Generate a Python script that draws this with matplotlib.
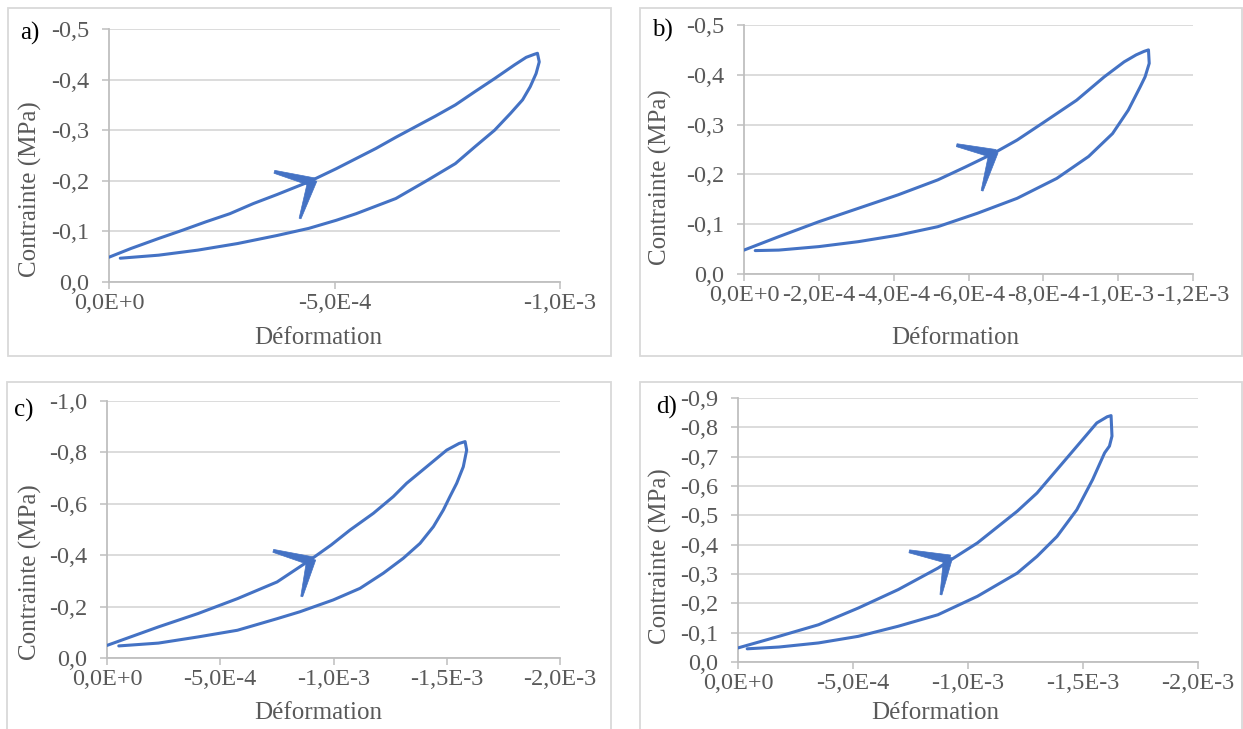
import matplotlib
matplotlib.use("Agg")
import matplotlib.pyplot as plt
from matplotlib.patches import Rectangle, Polygon
from matplotlib.ticker import FuncFormatter, FixedLocator
import matplotlib.transforms as mtrans
import numpy as np

# ---------------- data (strain, stress in MPa) ----------------
# panel a
a_load_x = [0, -4.8e-5, -1.1e-4, -1.62e-4, -2.15e-4, -2.68e-4, -3.2e-4, -3.73e-4, -4.43e-4, -5.04e-4, -5.48e-4,
            -5.92e-4, -6.36e-4, -6.8e-4, -7.24e-4, -7.68e-4, -8.11e-4, -8.55e-4, -8.99e-4, -9.25e-4, -9.43e-4, -9.5e-4]
a_load_y = [-0.049, -0.066, -0.086, -0.102, -0.119, -0.135, -0.155, -0.173, -0.198, -0.224, -0.244,
            -0.264, -0.286, -0.307, -0.328, -0.35, -0.376, -0.402, -0.429, -0.444, -0.45, -0.452]
a_unl_x = [-9.54e-4, -9.47e-4, -9.34e-4, -9.17e-4, -8.9e-4, -8.55e-4, -8.11e-4, -7.68e-4, -7.06e-4, -6.36e-4,
           -5.48e-4, -5.04e-4, -4.43e-4, -3.73e-4, -2.85e-4, -1.97e-4, -1.1e-4, -2.5e-5]
a_unl_y = [-0.435, -0.412, -0.386, -0.36, -0.333, -0.30, -0.267, -0.234, -0.201, -0.165,
           -0.135, -0.122, -0.106, -0.092, -0.076, -0.063, -0.053, -0.047]
# panel b
b_load_x = [0, -9.3e-5, -2.0e-4, -3.06e-4, -4.12e-4, -5.18e-4, -5.92e-4, -6.66e-4, -7.3e-4, -8.04e-4, -8.89e-4,
            -9.63e-4, -1.016e-3, -1.048e-3, -1.069e-3, -1.081e-3]
b_load_y = [-0.048, -0.075, -0.105, -0.132, -0.159, -0.189, -0.215, -0.242, -0.269, -0.306, -0.349,
            -0.396, -0.426, -0.44, -0.447, -0.45]
b_unl_x = [-1.083e-3, -1.072e-3, -1.059e-3, -1.027e-3, -9.85e-4, -9.21e-4, -8.36e-4, -7.3e-4, -6.24e-4, -5.18e-4,
           -4.12e-4, -3.06e-4, -2.0e-4, -9.3e-5, -3.0e-5]
b_unl_y = [-0.423, -0.396, -0.376, -0.329, -0.282, -0.236, -0.192, -0.152, -0.122, -0.095,
           -0.078, -0.065, -0.055, -0.048, -0.047]
# panel c
c_load_x = [0, -2.27e-4, -4.02e-4, -5.76e-4, -7.51e-4, -8.96e-4, -9.9e-4, -1.073e-3, -1.176e-3, -1.264e-3,
            -1.323e-3, -1.411e-3, -1.50e-3, -1.555e-3, -1.581e-3]
c_load_y = [-0.049, -0.121, -0.173, -0.231, -0.296, -0.381, -0.44, -0.498, -0.563, -0.628,
            -0.68, -0.744, -0.809, -0.835, -0.842]
c_unl_x = [-1.588e-3, -1.573e-3, -1.544e-3, -1.514e-3, -1.485e-3, -1.441e-3, -1.382e-3, -1.308e-3, -1.22e-3,
           -1.117e-3, -9.99e-4, -8.52e-4, -7.51e-4, -5.76e-4, -4.02e-4, -2.27e-4, -5.2e-5]
c_unl_y = [-0.809, -0.744, -0.68, -0.628, -0.576, -0.511, -0.446, -0.388, -0.33,
           -0.271, -0.226, -0.18, -0.153, -0.108, -0.082, -0.058, -0.047]
# panel d
d_load_x = [0, -1.78e-4, -3.5e-4, -5.23e-4, -6.97e-4, -8.69e-4, -1.041e-3, -1.214e-3, -1.30e-3, -1.387e-3,
            -1.473e-3, -1.56e-3, -1.605e-3, -1.622e-3]
d_load_y = [-0.048, -0.0875, -0.127, -0.184, -0.247, -0.32, -0.406, -0.514, -0.576, -0.656,
            -0.735, -0.815, -0.836, -0.84]
d_unl_x = [-1.626e-3, -1.615e-3, -1.594e-3, -1.542e-3, -1.473e-3, -1.387e-3, -1.30e-3, -1.214e-3, -1.041e-3,
           -8.69e-4, -6.97e-4, -5.23e-4, -3.5e-4, -1.78e-4, -4.0e-5]
d_unl_y = [-0.77, -0.736, -0.713, -0.622, -0.519, -0.428, -0.36, -0.303, -0.224,
           -0.161, -0.122, -0.0875, -0.065, -0.051, -0.045]

# arrow tip positions (data coords)
arrow_x = [-4.5e-4, -6.66e-4, -9.0e-4, -9.12e-4]
arrow_y = [-0.198, -0.242, -0.378, -0.351]

panel_labels = ["a)", "b)", "c)", "d)"]
x_ticks = [[0, -5e-4, -1e-3],
           [0, -2e-4, -4e-4, -6e-4, -8e-4, -1e-3, -1.2e-3],
           [0, -5e-4, -1e-3, -1.5e-3, -2e-3],
           [0, -5e-4, -1e-3, -1.5e-3, -2e-3]]
y_ticks = [[0, -0.1, -0.2, -0.3, -0.4, -0.5],
           [0, -0.1, -0.2, -0.3, -0.4, -0.5],
           [0, -0.2, -0.4, -0.6, -0.8, -1.0],
           [0, -0.1, -0.2, -0.3, -0.4, -0.5, -0.6, -0.7, -0.8, -0.9]]

# ---------------- layout (pixels) ----------------
W, H = 1243, 729
fig = plt.figure(figsize=(W / 100, H / 100), dpi=100)
plt.rcParams['font.family'] = ['Liberation Serif', 'DejaVu Serif']

axes_px = [(109, 560, 29, 282), (744, 1193, 25, 274), (107, 560, 401, 658), (738, 1198, 398, 662)]
frames_px = [(8, 611, 8, 356), (640, 1242, 8, 356), (7, 611, 382, 740), (640, 1242, 382, 740)]
ylabel_pos = [(30, 189), (660, 177), (30, 572), (660, 556)]
xlab_pos = [(318, 338), (955, 338), (318, 713), (935, 713)]
label_pos = [(20, 33), (652, 30), (14, 410), (656, 407)]

blue = "#4472C4"
grey_txt = "#595959"
grid_c = "#d9d9d9"
spine_c = "#bfbfbf"

for (l, r, t, b) in frames_px:
    fig.patches.append(Rectangle((l / W, 1 - b / H), (r - l) / W, (b - t) / H,
                                 transform=fig.transFigure, fill=False,
                                 edgecolor=grid_c, linewidth=1.3))

def fmt_x(v, pos):
    if abs(v) < 1e-12:
        return "0,0E+0"
    e = int(np.floor(np.log10(abs(v)) + 1e-9))
    m = v / 10 ** e
    return ("%.1f" % m).replace(".", ",") + "E%d" % e

def fmt_y(v, pos):
    s = "%.1f" % v
    if s == "-0.0":
        s = "0.0"
    return s.replace(".", ",")

data = [(a_load_x + a_unl_x, a_load_y + a_unl_y),
        (b_load_x + b_unl_x, b_load_y + b_unl_y),
        (c_load_x + c_unl_x, c_load_y + c_unl_y),
        (d_load_x + d_unl_x, d_load_y + d_unl_y)]

barbs = [((-37.6, 10), (-11.9, -36.7)), ((-36.5, 8.3), (-11.1, -37.3)),
         ((-37.6, 10), (-9.1, -35.7)), ((-38.5, 7.7), (-6.8, -35.7))]

for i in range(4):
    l, r, t, b = axes_px[i]
    ax = fig.add_axes([l / W, 1 - b / H, (r - l) / W, (b - t) / H])
    xs, ys = data[i]
    ax.plot(xs, ys, color=blue, lw=2.2, solid_capstyle='round', solid_joinstyle='round', zorder=3)
    ax.set_xlim(0, x_ticks[i][-1])
    ax.set_ylim(0, y_ticks[i][-1])
    ax.xaxis.set_major_locator(FixedLocator(x_ticks[i]))
    ax.yaxis.set_major_locator(FixedLocator(y_ticks[i]))
    ax.xaxis.set_major_formatter(FuncFormatter(fmt_x))
    ax.yaxis.set_major_formatter(FuncFormatter(fmt_y))
    ax.grid(axis='y', color=grid_c, lw=1.3)
    ax.set_axisbelow(True)
    for s in ['top', 'right']:
        ax.spines[s].set_visible(False)
    for s in ['left', 'bottom']:
        ax.spines[s].set_color(spine_c)
        ax.spines[s].set_linewidth(1.3)
    ax.tick_params(axis='both', direction='out', length=5, width=1.1, color=spine_c,
                   labelcolor=grey_txt, labelsize=17.5)
    ax.tick_params(axis='x', pad=3)
    ax.tick_params(axis='y', pad=9)

    # arrow chevron
    tip = mtrans.ScaledTranslation(arrow_x[i], arrow_y[i], ax.transData)
    tr = mtrans.Affine2D() + tip
    for (ex, ey), (w0, w1) in zip(barbs[i], [(9, 3), (9, 2)]):
        d = np.array([ex, ey], float)
        n = np.array([-d[1], d[0]]) / np.hypot(*d)
        p0 = np.array([0.0, 0.0]) - d / np.hypot(*d) * 2.0
        verts = [p0 + n * w0 / 2, d + n * w1 / 2, d - n * w1 / 2, p0 - n * w0 / 2]
        poly = Polygon(verts, closed=True, transform=tr, facecolor=blue,
                       edgecolor=blue, lw=0.5, zorder=4, clip_on=False)
        ax.add_patch(poly)

    # labels
    fig.text(ylabel_pos[i][0] / W, 1 - ylabel_pos[i][1] / H, "Contrainte (MPa)", rotation=90,
             ha='center', va='center', fontsize=18, color=grey_txt)
    fig.text(xlab_pos[i][0] / W, 1 - xlab_pos[i][1] / H, "Déformation", ha='center', va='center',
             fontsize=18, color=grey_txt)
    fig.text(label_pos[i][0] / W, 1 - label_pos[i][1] / H, panel_labels[i], ha='left',
             va='center', fontsize=18, color='black')

fig.savefig("out.png", dpi=100)
